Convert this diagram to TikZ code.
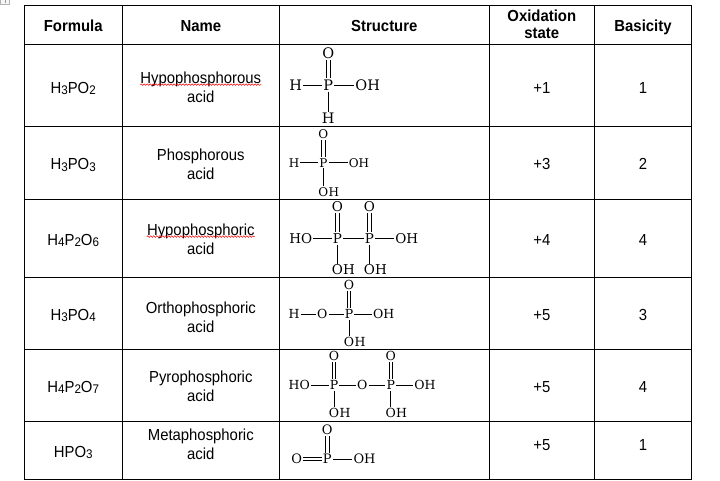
\documentclass[tikz,border=0pt]{standalone}
\usepackage{fontspec}
\setmainfont{Liberation Sans}
\newfontfamily\narrowsans[FakeStretch=0.93]{Liberation Sans}
\newfontfamily\chemfont{DejaVu Serif}
\usetikzlibrary{positioning,decorations.pathmorphing}

\newcommand{\chsub}[1]{\raisebox{-1.8pt}{\fontsize{12.5}{12.5}\selectfont #1}}
% double bonds, vertical (lower node, upper node) and horizontal (left node, right node)
\newcommand{\dblv}[2]{\draw[bond] ([xshift=-1.7pt]#1.north) -- ([xshift=-1.7pt]#2.south)
  ([xshift=1.7pt]#1.north) -- ([xshift=1.7pt]#2.south);}
\newcommand{\dblh}[2]{\draw[bond] ([yshift=-1.7pt]#1.east) -- ([yshift=-1.7pt]#2.west)
  ([yshift=1.7pt]#1.east) -- ([yshift=1.7pt]#2.west);}

\tikzset{
  rule/.style={line width=1pt, line cap=rect},
  head/.style={font=\narrowsans\bfseries\fontsize{16}{16.5}\selectfont, inner sep=0pt},
  txt/.style={font=\narrowsans\fontsize{16}{18}\selectfont, inner sep=0pt},
  atom/.style={inner xsep=1pt, inner ysep=1.2pt, font=\chemfont\fontsize{#1}{#1}\selectfont},
  bond/.style={line width=0.8pt},
  spell/.style={red, line width=0.5pt, decorate, decoration={snake, amplitude=0.8pt, segment length=3pt}},
}

\begin{document}
\begin{tikzpicture}[x=1pt,y=-1pt]
  \useasboundingbox (0,0) rectangle (720,480);
  % table handle
  \draw[gray!60, fill=gray!8] (0.5,-2) rectangle (9.5,4.3);
  \draw[gray!80] (5,0) -- (5,2.8);
  % grid
  \foreach \x in {24,122.3,279.3,489.3,594.3,691.7}
    \draw[rule] (\x,5.3) -- (\x,479.3);
  \foreach \y in {5.3,44.3,126,199.3,277.3,349.3,421.5,479.3}
    \draw[rule] (24,\y) -- (691.7,\y);

  % header
  \node[head, anchor=base] (hform) at (73.2,31) {Formula};
  \node[head, anchor=base] (hname) at (200.8,31) {Name};
  \node[head, anchor=base] (hstruct) at (384.3,31) {Structure};
  \node[head, align=center] (hox) at (541.8,24.5) {Oxidation\\state};
  \node[head, anchor=base] (hbas) at (643,31) {Basicity};

  % formula column
  \node[txt, anchor=base] (f1) at (73.2,93) {H\chsub3PO\chsub2};
  \node[txt, anchor=base] (f2) at (73.2,169.5) {H\chsub3PO\chsub3};
  \node[txt, anchor=base] (f3) at (73.2,245) {H\chsub4P\chsub2O\chsub6};
  \node[txt, anchor=base] (f4) at (73.2,320) {H\chsub3PO\chsub4};
  \node[txt, anchor=base] (f5) at (73.2,392) {H\chsub4P\chsub2O\chsub7};
  \node[txt, anchor=base] (f6) at (73.2,457) {HPO\chsub3};

  % name column
  \node[txt, anchor=base] (nm1) at (200.8,83) {Hypophosphorous};
  \node[txt, anchor=base] (ac1) at ([yshift=-19pt]nm1.base) {acid};
  \draw[spell] ([yshift=-1.6pt]nm1.base west) -- ([yshift=-1.6pt]nm1.base east);
  \node[txt, anchor=base] (nm2) at (200.8,160.7) {Phosphorous};
  \node[txt, anchor=base] (ac2) at ([yshift=-18.5pt]nm2.base) {acid};
  \node[txt, anchor=base] (nm3) at (200.8,235) {Hypophosphoric};
  \node[txt, anchor=base] (ac3) at ([yshift=-19.5pt]nm3.base) {acid};
  \draw[spell] ([yshift=-1.6pt]nm3.base west) -- ([yshift=-1.6pt]nm3.base east);
  \node[txt, anchor=base] (nm4) at (200.8,313.3) {Orthophosphoric};
  \node[txt, anchor=base] (ac4) at ([yshift=-19.5pt]nm4.base) {acid};
  \node[txt, anchor=base] (nm5) at (200.8,382.3) {Pyrophosphoric};
  \node[txt, anchor=base] (ac5) at ([yshift=-19.3pt]nm5.base) {acid};
  \node[txt, anchor=base] (nm6) at (200.8,440) {Metaphosphoric};
  \node[txt, anchor=base] (ac6) at ([yshift=-19.3pt]nm6.base) {acid};

  % oxidation state and basicity
  \node[txt, anchor=base] (ox1) at (541.8,93) {+1};
  \node[txt, anchor=base] (bs1) at (643,93) {1};
  \node[txt, anchor=base] (ox2) at (541.8,169.5) {+3};
  \node[txt, anchor=base] (bs2) at (643,169.5) {2};
  \node[txt, anchor=base] (ox3) at (541.8,245) {+4};
  \node[txt, anchor=base] (bs3) at (643,245) {4};
  \node[txt, anchor=base] (ox4) at (541.8,320) {+5};
  \node[txt, anchor=base] (bs4) at (643,320) {3};
  \node[txt, anchor=base] (ox5) at (541.8,392) {+5};
  \node[txt, anchor=base] (bs5) at (643,392) {4};
  \node[txt, anchor=base] (ox6) at (541.8,450) {+5};
  \node[txt, anchor=base] (bs6) at (643,450) {1};

  % H3PO2
  \begin{scope}[nodes={atom=14.5}]
    \node (p1) at (328.3,85) {P};
    \node (o1) at (328.3,53.3) {O};
    \node (h1a) at (295.7,85) {H};
    \node (oh1) at (367.7,85) {OH};
    \node (h1b) at (328.3,118.3) {H};
    \draw[bond] (h1a) -- (p1) (p1) -- (oh1) (p1) -- (h1b);
    \dblv{p1}{o1}
  \end{scope}

  % H3PO3
  \begin{scope}[nodes={atom=12}]
    \node (p2) at (323.3,162.7) {P};
    \node (o2) at (323.3,134.3) {O};
    \node (h2) at (294,162.7) {H};
    \node (oh2) at (359,162.7) {OH};
    \node (o2b) at (323.3,191.7) {O};
    \node[right=-2pt of o2b] (h2b) {H};
    \draw[bond] (h2) -- (p2) (p2) -- (oh2) (p2) -- (o2b);
    \dblv{p2}{o2}
  \end{scope}

  % H4P2O6
  \begin{scope}[nodes={atom=13.5}]
    \node (p3a) at (337.3,238.3) {P};
    \node (p3b) at (369.3,238.3) {P};
    \node (o3a) at (337.3,206.7) {O};
    \node (o3b) at (369.3,206.7) {O};
    \node (ho3) at (300.8,238.3) {HO};
    \node (oh3) at (406.7,238.3) {OH};
    \node (o3c) at (337.3,270) {O};
    \node[right=-2pt of o3c] (h3c) {H};
    \node (o3d) at (369.3,270) {O};
    \node[right=-2pt of o3d] (h3d) {H};
    \draw[bond] (ho3) -- (p3a) (p3a) -- (p3b) (p3b) -- (oh3)
                (p3a) -- (o3c) (p3b) -- (o3d);
    \dblv{p3a}{o3a}
    \dblv{p3b}{o3b}
  \end{scope}

  % H3PO4
  \begin{scope}[nodes={atom=12.5}]
    \node (p4) at (349,314) {P};
    \node (o4) at (349,285) {O};
    \node (h4) at (294,314) {H};
    \node (o4a) at (322.3,314) {O};
    \node (oh4) at (383.7,314) {OH};
    \node (o4b) at (349,341.7) {O};
    \node[right=-2pt of o4b] (h4b) {H};
    \draw[bond] (h4) -- (o4a) (o4a) -- (p4) (p4) -- (oh4) (p4) -- (o4b);
    \dblv{p4}{o4}
  \end{scope}

  % H4P2O7
  \begin{scope}[nodes={atom=12.5}]
    \node (p5a) at (334,385) {P};
    \node (p5b) at (390.7,385) {P};
    \node (o5c) at (362.3,385) {O};
    \node (o5a) at (334,356) {O};
    \node (o5b) at (390.7,356) {O};
    \node (ho5) at (299.3,385) {HO};
    \node (oh5) at (425,385) {OH};
    \node (o5d) at (334,413.3) {O};
    \node[right=-2pt of o5d] (h5d) {H};
    \node (o5e) at (390.7,413.3) {O};
    \node[right=-2pt of o5e] (h5e) {H};
    \draw[bond] (ho5) -- (p5a) (p5a) -- (o5c) (o5c) -- (p5b) (p5b) -- (oh5)
                (p5a) -- (o5d) (p5b) -- (o5e);
    \dblv{p5a}{o5a}
    \dblv{p5b}{o5b}
  \end{scope}

  % HPO3
  \begin{scope}[nodes={atom=13}]
    \node (p6) at (327.3,459) {P};
    \node (o6) at (327.3,429.3) {O};
    \node (o6a) at (296.7,459) {O};
    \node (oh6) at (364.5,459) {OH};
    \draw[bond] (p6) -- (oh6);
    \dblh{o6a}{p6}
    \dblv{p6}{o6}
  \end{scope}
\end{tikzpicture}
\end{document}
